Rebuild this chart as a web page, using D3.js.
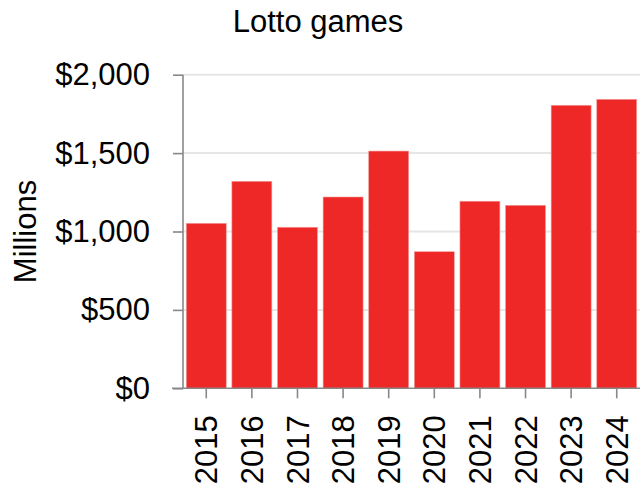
<!DOCTYPE html>
<html>
<head>
<meta charset="utf-8">
<script src="https://cdn.jsdelivr.net/npm/d3@7"></script>
<style>
  html, body { margin: 0; padding: 0; background: #fff; }
  svg { display: block; font-family: "Liberation Sans", Arial, Helvetica, sans-serif; }
</style>
</head>
<body>
<svg id="chart" width="644" height="490"></svg>
<script>
const years = ["2015","2016","2017","2018","2019","2020","2021","2022","2023","2024"];
const sales = [1052, 1320, 1027, 1220, 1513, 871, 1193, 1167, 1805, 1843];
const yTicks = [0, 500, 1000, 1500, 2000];
const title = "Lotto games";
const yLabel = "Millions";

const W = 644, H = 490;
const m = { left: 183, right: 4, top: 74.7, bottom: 101.7 };
const svg = d3.select("#chart");

const x = d3.scaleBand().domain(years).range([m.left, W - m.right])
  .paddingInner(0.124).paddingOuter(0.072);
const y = d3.scaleLinear().domain([0, 2000]).range([H - m.bottom, m.top]);

// gridlines
svg.append("g").selectAll("line").data(yTicks.filter(d => d > 0)).join("line")
  .attr("x1", m.left).attr("x2", W - m.right)
  .attr("y1", d => y(d)).attr("y2", d => y(d))
  .attr("stroke", "#e6e6e6").attr("stroke-width", 2);

// bars
svg.append("g").selectAll("rect").data(years).join("rect")
  .attr("x", d => x(d))
  .attr("y", (d, i) => y(sales[i]))
  .attr("width", x.bandwidth())
  .attr("height", (d, i) => y(0) - y(sales[i]))
  .attr("fill", "#ee2826")
  .attr("stroke", "#f49a98").attr("stroke-width", 0.6);

// y axis
const yAxis = svg.append("g").attr("transform", `translate(${m.left},0)`)
  .call(d3.axisLeft(y).tickValues(yTicks).tickSize(10).tickPadding(23)
    .tickFormat(d => "$" + d3.format(",")(d)));
yAxis.select(".domain").attr("stroke", "#888").attr("stroke-width", 1.6).attr("d", `M0,${y(0)}V${y(2000)}`);
yAxis.selectAll(".tick line").attr("stroke", "#888").attr("stroke-width", 1.6);
yAxis.selectAll(".tick text").attr("font-size", 31).attr("fill", "#000")
  .attr("font-family", "Liberation Sans, Arial, sans-serif");

// x axis
const xAxis = svg.append("g").attr("transform", `translate(0,${y(0)})`)
  .call(d3.axisBottom(x).tickSize(10).tickSizeOuter(0));
xAxis.select(".domain").attr("stroke", "#888").attr("stroke-width", 1.6)
  .attr("d", `M${m.left - 11},0H${W - m.right}`);
xAxis.selectAll(".tick line").attr("stroke", "#888").attr("stroke-width", 1.6);
xAxis.selectAll(".tick text")
  .attr("font-size", 31).attr("fill", "#000")
  .attr("font-family", "Liberation Sans, Arial, sans-serif")
  .attr("text-anchor", "end")
  .attr("transform", "rotate(-90)")
  .attr("x", -27).attr("y", 0).attr("dy", "0.36em");

// title
svg.append("text").attr("x", 318).attr("y", 31.5)
  .attr("text-anchor", "middle").attr("font-size", 31).attr("fill", "#000")
  .text(title);

// y label
svg.append("text")
  .attr("transform", `translate(36,${(y(0) + y(2000)) / 2}) rotate(-90)`)
  .attr("text-anchor", "middle").attr("font-size", 31).attr("fill", "#000")
  .text(yLabel);
</script>
</body>
</html>
